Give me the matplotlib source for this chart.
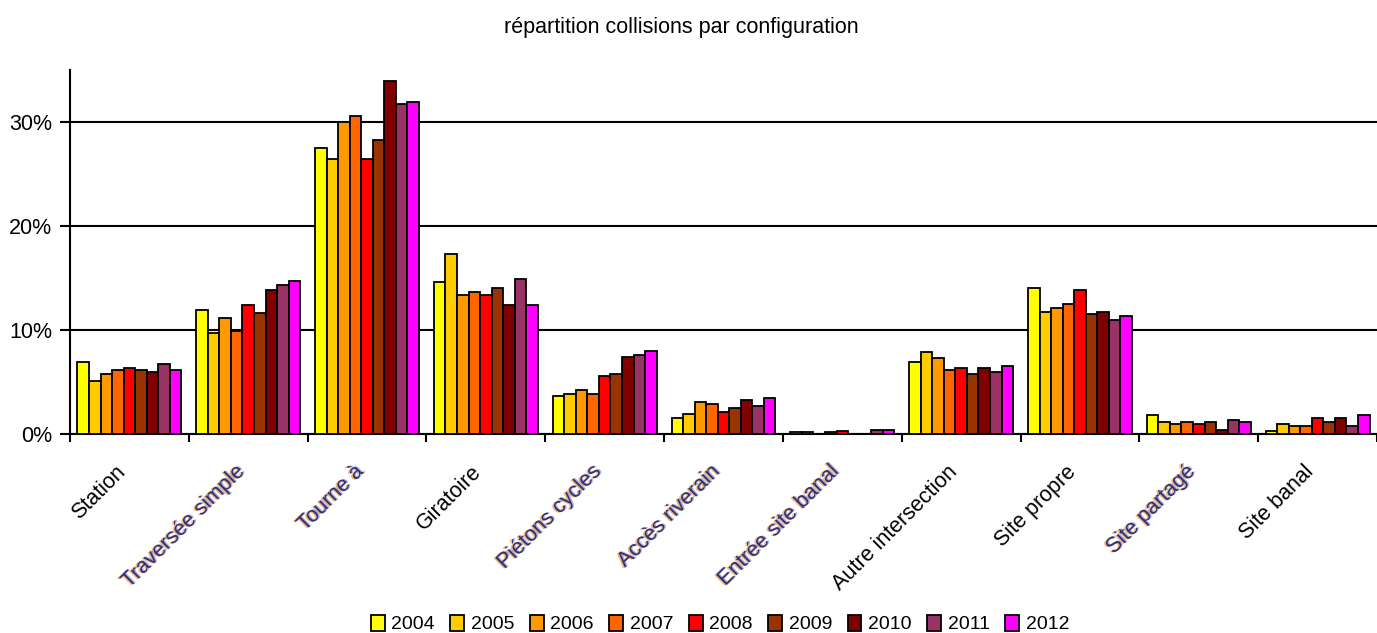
import numpy as np
import matplotlib
matplotlib.use("Agg")
from matplotlib import pyplot as plt
import matplotlib.patheffects as pe

plt.rcParams['font.family'] = ['Liberation Sans', 'DejaVu Sans']

# configurations (x axis) and years (series)
categories = ["Station", "Traversée simple", "Tourne à", "Giratoire", "Piétons cycles",
              "Accès riverain", "Entrée site banal", "Autre intersection", "Site propre",
              "Site partagé", "Site banal"]
# labels that come out with the smeared colour fringe
fuzzy_labels = ["Traversée simple", "Tourne à", "Piétons cycles", "Accès riverain",
                "Entrée site banal", "Site partagé"]
years = ["2004", "2005", "2006", "2007", "2008", "2009", "2010", "2011", "2012"]
colors = ["#FFFF00", "#FFCC00", "#FF9900", "#FF6600", "#FF0000",
          "#993300", "#800000", "#993366", "#FF00FF"]

# share of collisions in %, one list per year, in category order
v2004 = [6.85, 11.85, 27.5, 14.6, 3.6, 1.5, 0.15, 6.85, 14.0, 1.75, 0.2]
v2005 = [5.1, 9.7, 26.4, 17.3, 3.8, 1.9, 0.15, 7.85, 11.7, 1.1, 0.95]
v2006 = [5.7, 11.1, 30.0, 13.3, 4.2, 3.0, 0.0, 7.3, 12.1, 0.9, 0.75]
v2007 = [6.1, 9.9, 30.6, 13.65, 3.8, 2.85, 0.15, 6.1, 12.5, 1.15, 0.75]
v2008 = [6.3, 12.4, 26.4, 13.3, 5.5, 2.05, 0.2, 6.3, 13.8, 0.95, 1.5]
v2009 = [6.1, 11.6, 28.3, 14.05, 5.7, 2.45, 0.0, 5.75, 11.55, 1.15, 1.15]
v2010 = [5.9, 13.8, 33.9, 12.35, 7.4, 3.25, 0.0, 6.3, 11.7, 0.35, 1.5]
v2011 = [6.65, 14.3, 31.75, 14.85, 7.6, 2.65, 0.35, 5.95, 10.95, 1.3, 0.75]
v2012 = [6.1, 14.7, 31.95, 12.35, 7.95, 3.45, 0.35, 6.5, 11.35, 1.1, 1.75]
series = [v2004, v2005, v2006, v2007, v2008, v2009, v2010, v2011, v2012]

fig = plt.figure(figsize=(13.77, 6.33), dpi=100)
ax = fig.add_axes([70/1377, 1 - 433.5/633, 1307/1377, 363.5/633])

x = np.arange(len(categories))
n = len(series)
bw = 0.875 / n
for i, (vals, col, yr) in enumerate(zip(series, colors, years)):
    ax.bar(x - 0.4375 + bw*(i + 0.5), vals, width=bw, color=col,
           edgecolor='black', linewidth=1.3, label=yr, zorder=3)

ax.set_xlim(-0.5, 10.48)
ax.set_ylim(0, 35)
ax.set_yticks([0, 10, 20, 30])
ax.set_yticklabels(["0%", "10%", "20%", "30%"], fontsize=15.5)
ax.yaxis.grid(True, color='black', linewidth=1.5, zorder=0)
ax.tick_params(axis='y', length=7, width=1.5, pad=6)

# tick marks sit between the groups, labels are drawn separately
ax.set_xticks(np.arange(len(categories) + 1) - 0.5)
ax.set_xticklabels([])
ax.tick_params(axis='x', length=6, width=1.5)

for s in ['top', 'right']:
    ax.spines[s].set_visible(False)
for s in ['left', 'bottom']:
    ax.spines[s].set_linewidth(1.5)

fringe = [pe.SimplePatchShadow(offset=(-1.2, -0.4), shadow_rgbFace='#f0a040', alpha=0.75),
          pe.SimplePatchShadow(offset=(1.0, 0.4), shadow_rgbFace='#5a8ae0', alpha=0.6),
          pe.Normal()]
for xi, lab in zip(x, categories):
    fuzzy = lab in fuzzy_labels
    ax.annotate(lab, xy=(xi, 0), xycoords=('data', 'axes fraction'),
                xytext=(-10.5, -20), textcoords='offset points',
                ha='right', va='top', rotation=45, rotation_mode='anchor',
                fontsize=15.5, color='#3a2c6e' if fuzzy else 'black',
                path_effects=fringe if fuzzy else None)

fig.suptitle("répartition collisions par configuration", x=681/1377, y=1 - 27/633,
             va='center', fontsize=15.5)

fig.legend(loc='center', bbox_to_anchor=(720/1377, 1 - 624/633), ncol=9,
           frameon=False, fontsize=14, handlelength=0.7, handleheight=0.9,
           handletextpad=0.35, columnspacing=0.8)

fig.savefig("out.png", dpi=100)
